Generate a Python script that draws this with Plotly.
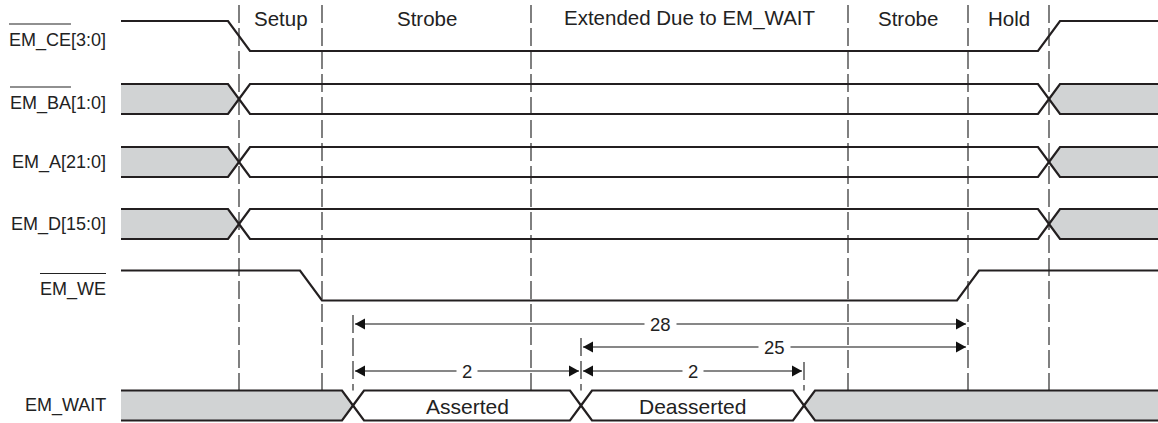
import plotly.graph_objects as go

# ---------------- data ----------------
signal_names = ["EM_CE[3:0]", "EM_BA[1:0]", "EM_A[21:0]", "EM_D[15:0]", "EM_WE", "EM_WAIT"]
overline_parts = ["EM_CE", "EM_BA", "", "", "EM_WE", ""]
phase_labels = ["Setup", "Strobe", "Extended Due to EM_WAIT", "Strobe", "Hold"]
phase_edges = [239, 322, 531, 848, 968, 1049]
t_start, t_end = 121, 1158
ce_edges = [239, 1049]          # falling, rising
bus_edges = [239, 1049]         # invalid -> valid -> invalid
bus_states = ["x", "v", "x"]
we_edges = [311, 968]           # falling, rising
wait_edges = [353, 581, 804]
wait_states = ["x", "v", "v", "x"]
wait_labels = ["", "Asserted", "Deasserted", ""]
dim_labels = ["28", "25", "2", "2"]
dim_from = [353, 581, 353, 581]
dim_to = [968, 968, 581, 804]

# ---------------- layout constants ----------------
W, H = 1158, 423
ROW_Y = [36, 99, 162, 224, 285.5, 405.5]
DIM_Y = [324, 347, 371, 371]
HALF = 15          # half height of a signal
EDGE = 11          # half width of a transition
LINE = "#231f20"
GRAY = "#d1d3d4"
DASHC = "#3c3c3c"
FONT = "Liberation Sans, Arial, sans-serif"
LABEL_FS = 18
PHASE_FS = 20.5
STATE_FS = 21
DIM_FS = 18.5
LABEL_RIGHT = 106

ARIAL_W = {"E": 667, "M": 833, "_": 556, "C": 722, "B": 667, "A": 667, "W": 944,
           "D": 722, "I": 278, "T": 611, "[": 278, "]": 278, ":": 278}
for d in "0123456789":
    ARIAL_W[d] = 556


def text_w(s, fs):
    return sum(ARIAL_W.get(c, 556) for c in s) / 1000.0 * fs


fig = go.Figure()


def add_line(xs, ys, width=2.0, color=LINE, dash=None):
    fig.add_trace(go.Scatter(x=xs, y=ys, mode="lines", hoverinfo="skip",
                             line=dict(color=color, width=width, dash=dash),
                             showlegend=False))


def add_fill(xs, ys, color):
    fig.add_trace(go.Scatter(x=xs, y=ys, mode="lines", fill="toself", fillcolor=color,
                             line=dict(width=0, color=color), hoverinfo="skip",
                             showlegend=False))


def bus(yc, edges, states):
    top, bot = yc - HALF, yc + HALF
    bounds = [t_start] + list(edges) + [t_end]
    lx, ly = [], []
    for i, st in enumerate(states):
        a, b = bounds[i], bounds[i + 1]
        lc, rc = i > 0, i < len(states) - 1
        tp, bp = [], []
        if lc:
            tp += [(a, yc), (a + EDGE, top)]
            bp += [(a, yc), (a + EDGE, bot)]
        else:
            tp += [(a, top)]
            bp += [(a, bot)]
        if rc:
            tp += [(b - EDGE, top), (b, yc)]
            bp += [(b - EDGE, bot), (b, yc)]
        else:
            tp += [(b, top)]
            bp += [(b, bot)]
        if st == "x":
            poly = tp + bp[::-1]
            add_fill([p[0] for p in poly], [p[1] for p in poly], GRAY)
        for path in (tp, bp):
            lx += [p[0] for p in path] + [None]
            ly += [p[1] for p in path] + [None]
    add_line(lx, ly, 2.2)


def level(yc, edges, start_high=True):
    hi, lo = yc - HALF, yc + HALF
    cur = hi if start_high else lo
    xs, ys = [t_start], [cur]
    for e in edges:
        nxt = lo if cur == hi else hi
        xs += [e - EDGE, e + EDGE]
        ys += [cur, nxt]
        cur = nxt
    xs.append(t_end)
    ys.append(cur)
    add_line(xs, ys, 2.2)


# dashed phase boundaries
wait_top = ROW_Y[5] - HALF
for e in phase_edges:
    add_line([e, e], [5, wait_top], 1.3, DASHC, "18px,5px")

# dimension extension lines
for xe in sorted(set(dim_from + dim_to)):
    if xe in phase_edges:
        continue
    lv = [DIM_Y[i] for i in range(len(dim_labels)) if dim_from[i] == xe or dim_to[i] == xe]
    add_line([xe, xe], [min(lv) - 9, wait_top], 1.3, DASHC, "18px,5px")

# signals
level(ROW_Y[0], ce_edges)
for r in (1, 2, 3):
    bus(ROW_Y[r], bus_edges, bus_states)
level(ROW_Y[4], we_edges)
bus(ROW_Y[5], wait_edges, wait_states)

# dimension arrows
AH_L, AH_H = 10, 5.5
for lab, a, b, y in zip(dim_labels, dim_from, dim_to, DIM_Y):
    xa, xb = a + 2, b - 2
    add_line([xa, xb], [y, y], 1.1, "#111")
    add_fill([xa, xa + AH_L, xa + AH_L, xa], [y, y - AH_H, y + AH_H, y], "#111")
    add_fill([xb, xb - AH_L, xb - AH_L, xb], [y, y - AH_H, y + AH_H, y], "#111")
    fig.add_annotation(x=(a + b) / 2, y=y, text=lab, showarrow=False,
                       font=dict(family=FONT, size=DIM_FS, color="#222"),
                       bgcolor="white", borderpad=5, xanchor="center", yanchor="middle")

# phase labels
for i, lab in enumerate(phase_labels):
    fig.add_annotation(x=(phase_edges[i] + phase_edges[i + 1]) / 2, y=18, text=lab,
                       showarrow=False, font=dict(family=FONT, size=PHASE_FS, color="#222"),
                       xanchor="center", yanchor="middle")

# EM_WAIT state labels
wb = [t_start] + wait_edges + [t_end]
for i, lab in enumerate(wait_labels):
    if lab:
        fig.add_annotation(x=(wb[i] + wb[i + 1]) / 2, y=ROW_Y[5] + 1, text=lab,
                           showarrow=False, font=dict(family=FONT, size=STATE_FS, color="#222"),
                           xanchor="center", yanchor="middle")

# signal names (with overline for active-low)
for name, ov, yc in zip(signal_names, overline_parts, ROW_Y):
    dy = 4 if ov else 0
    fig.add_annotation(x=LABEL_RIGHT, y=yc + dy, text=name, showarrow=False,
                       font=dict(family=FONT, size=LABEL_FS, color="#222"),
                       xanchor="right", yanchor="middle", borderpad=0, borderwidth=0)
    if ov:
        x0 = LABEL_RIGHT - text_w(name, LABEL_FS)
        x1 = x0 + text_w(ov, LABEL_FS)
        fig.add_shape(type="line", x0=x0, x1=x1, y0=yc + dy - 16, y1=yc + dy - 16,
                      line=dict(color="#222", width=1.2))

fig.update_layout(
    width=W, height=H, margin=dict(l=0, r=0, t=0, b=0),
    paper_bgcolor="white", plot_bgcolor="white", showlegend=False,
    xaxis=dict(range=[0, W], visible=False, fixedrange=True),
    yaxis=dict(range=[H, 0], visible=False, fixedrange=True),
)

fig.write_html("out.html", config={"displayModeBar": False},
               post_script="document.body.style.margin='0';document.body.style.overflow='hidden';")
